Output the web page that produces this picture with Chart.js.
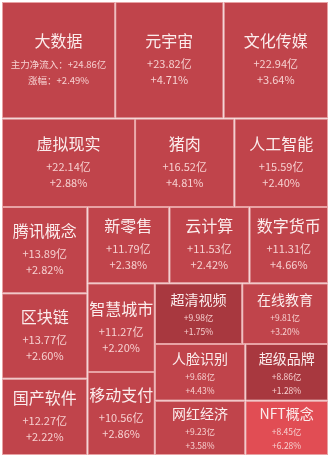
<!DOCTYPE html>
<html>
<head>
<meta charset="utf-8">
<script src="https://cdn.jsdelivr.net/npm/chart.js@4/dist/chart.umd.min.js"></script>
<style>
	html, body { margin: 0; padding: 0; background: #ffffff; }
	#wrap { width: 331px; height: 457px; position: relative; }
</style>
</head>
<body>
<div id="wrap"><canvas id="chart"></canvas></div>
<script>
// 概念板块：主力净流入（亿）和涨幅（%）
const sectors = ["大数据", "元宇宙", "文化传媒", "虚拟现实", "猪肉", "人工智能", "腾讯概念", "区块链", "国产软件", "新零售", "云计算", "数字货币", "智慧城市", "移动支付", "超清视频", "在线教育", "人脸识别", "网红经济", "超级品牌", "NFT概念"];
const netInflow = [24.86, 23.82, 22.94, 22.14, 16.52, 15.59, 13.89, 13.77, 12.27, 11.79, 11.53, 11.31, 11.27, 10.56, 9.98, 9.81, 9.68, 9.23, 8.86, 8.45];
const pctChange = [2.49, 4.71, 3.64, 2.88, 4.81, 2.40, 2.82, 2.60, 2.22, 2.38, 2.42, 4.66, 2.20, 2.86, 1.75, 3.20, 4.43, 3.58, 1.28, 6.28];
const leadPrefixes = ["主力净流入：", "涨幅："];

const FONT = '"Noto Sans CJK SC", "Noto Sans", sans-serif';

const colorFor = (pct) => {
	if (pct < 2) return "#a8383f";
	if (pct > 5) return "#e14d54";
	return "#c0444b";
};

const worst = (row, side) => {
	const s = row.reduce((a, b) => a + b, 0);
	const max = Math.max(...row);
	const min = Math.min(...row);
	return Math.max((side * side * max) / (s * s), (s * s) / (side * side * min));
};

// squarified treemap, values already sorted large -> small
const squarify = (values, rect) => {
	const total = values.reduce((a, b) => a + b, 0);
	const k = (rect.w * rect.h) / total;
	const areas = values.map((v) => v * k);
	const out = [];
	const r = { ...rect };
	let i = 0;
	while (i < areas.length) {
		// near-square areas get a strip across the top
		const across = r.w < r.h * 1.03;
		const side = across ? r.w : r.h;
		let row = [areas[i]];
		let best = worst(row, side);
		let j = i + 1;
		while (j < areas.length) {
			const cand = row.concat(areas[j]);
			const w = worst(cand, side);
			if (w > best) break;
			row = cand;
			best = w;
			j++;
		}
		const thick = row.reduce((a, b) => a + b, 0) / side;
		let off = 0;
		row.forEach((a) => {
			const len = a / thick;
			if (across) out.push({ x: r.x + off, y: r.y, w: len, h: thick });
			else out.push({ x: r.x, y: r.y + off, w: thick, h: len });
			off += len;
		});
		if (across) { r.y += thick; r.h -= thick; }
		else { r.x += thick; r.w -= thick; }
		i = j;
	}
	return out;
};

class TreemapController extends Chart.DatasetController {
	parse(start, count) {
		const meta = this._cachedMeta;
		for (let i = start; i < start + count; i++) {
			meta._parsed[i] = { x: 0.5, y: 0.5 };
		}
	}
	update(mode) {
		const meta = this._cachedMeta;
		const xs = meta.xScale;
		const ys = meta.yScale;
		const left = xs.getPixelForValue(0);
		const right = xs.getPixelForValue(1);
		const top = ys.getPixelForValue(1);
		const bottom = ys.getPixelForValue(0);
		const values = this.getDataset().data;
		const boxes = squarify(values, { x: left, y: top, w: right - left, h: bottom - top });
		meta.data.forEach((el, i) => {
			const b = boxes[i];
			Object.assign(el, {
				x: b.x + b.w / 2,
				y: b.y,
				base: b.y + b.h,
				width: b.w,
				height: b.h,
				horizontal: false,
				inflateAmount: 0,
				borderSkipped: {},
				enableBorderRadius: false,
				options: this.resolveDataElementOptions(i, mode),
			});
		});
	}
	draw() {
		const ctx = this.chart.ctx;
		const meta = this._cachedMeta;
		meta.data.forEach((el) => el.draw(ctx));
		ctx.save();
		ctx.textAlign = "center";
		ctx.textBaseline = "middle";
		meta.data.forEach((el, i) => {
			const cx = el.x;
			const cy = el.y + el.height / 2;
			const small = el.height < 66;
			let line1 = `+${netInflow[i].toFixed(2)}亿`;
			let line2 = `+${pctChange[i].toFixed(2)}%`;
			let valueSize = small ? 8.5 : 11;
			if (i === 0) {
				line1 = leadPrefixes[0] + line1;
				line2 = leadPrefixes[1] + line2;
				valueSize = 9.5;
			}
			ctx.fillStyle = "#fbecec";
			ctx.font = `${small ? 14 : 16}px ${FONT}`;
			ctx.fillText(sectors[i], cx, cy - (small ? 14 : 19));
			ctx.fillStyle = "#f6d0d0";
			ctx.font = `${valueSize}px ${FONT}`;
			ctx.fillText(line1, cx, cy + 4);
			ctx.fillText(line2, cx, cy + (small ? 18 : 20));
		});
		ctx.restore();
	}
}
TreemapController.id = "treemap";
TreemapController.defaults = { dataElementType: "bar" };
Chart.register(TreemapController);

window.onload = () => {
	const canvas = document.getElementById("chart");
	new Chart(canvas, {
		type: "treemap",
		data: {
			labels: sectors,
			datasets: [
				{
					label: "主力净流入",
					data: netInflow,
					backgroundColor: (c) => colorFor(pctChange[c.dataIndex]),
					borderColor: "#e8a2a4",
					borderWidth: 1,
					borderRadius: 0,
				},
			],
		},
		options: {
			responsive: true,
			maintainAspectRatio: false,
			animation: false,
			layout: { padding: { left: 2, top: 2, right: 3, bottom: 2 } },
			scales: {
				x: { type: "linear", min: 0, max: 1, display: false },
				y: { type: "linear", min: 0, max: 1, display: false },
			},
			plugins: {
				legend: { display: false },
				tooltip: { enabled: false },
			},
			events: [],
		},
	});
};
</script>
</body>
</html>
